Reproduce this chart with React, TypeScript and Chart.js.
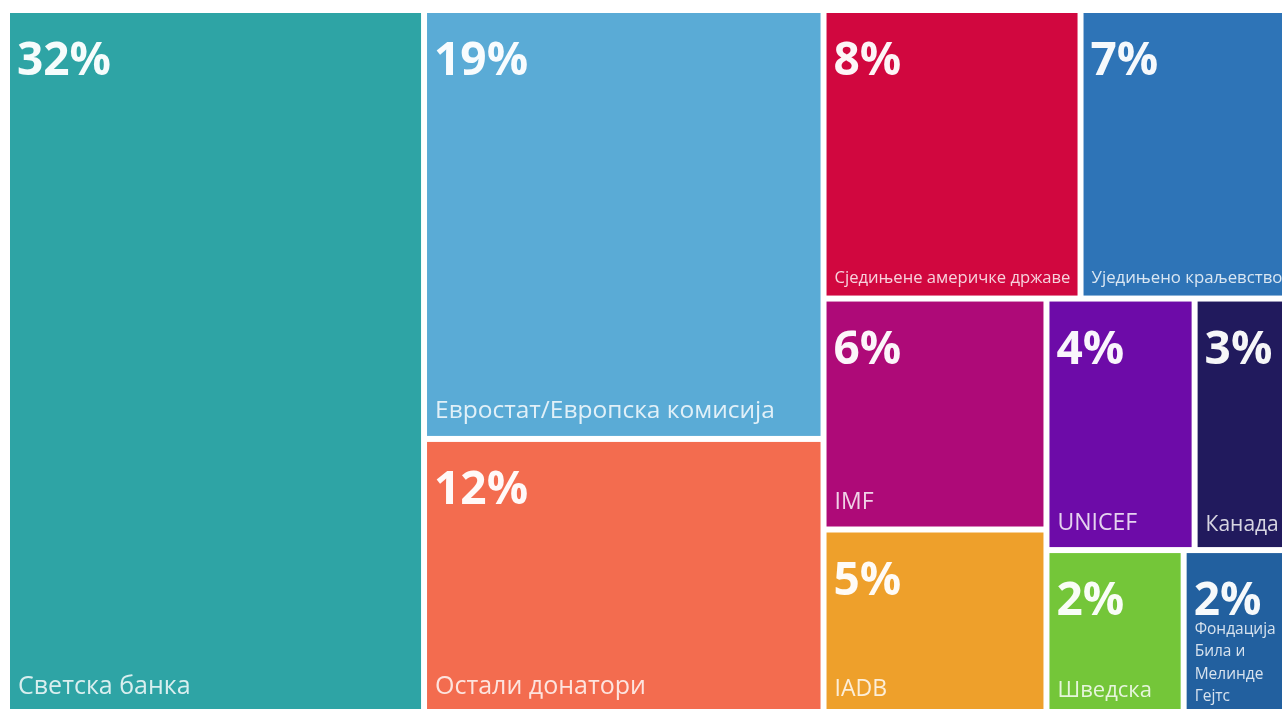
import React, { useEffect, useRef } from "react";
import { Chart, registerables } from "chart.js";

Chart.register(...registerables);

// ---- data ----
const categories: string[] = [
  "Светска банка",
  "Евростат/Европска комисија",
  "Остали донатори",
  "Сједињене америчке државе",
  "Уједињено краљевство",
  "IMF",
  "IADB",
  "UNICEF",
  "Канада",
  "Шведска",
  "Фондација\nБила и\nМелинде\nГејтс",
];
const shares: number[] = [32.08, 18.67, 12.06, 8.08, 7.12, 5.61, 4.53, 4.06, 3.08, 2.48, 2.23];

// ---- styles ----
const colors: string[] = [
  "#2ea4a5",
  "#5aabd6",
  "#f36c4f",
  "#d1073f",
  "#2e74b7",
  "#ae0a78",
  "#eea02b",
  "#6d0ba8",
  "#211a5d",
  "#74c639",
  "#22609f",
];
const labelSizes: number[] = [25, 24.5, 25, 16.6, 16.8, 23, 23, 23, 21, 22, 15.5];

// nesting of the treemap (leaf = index into categories); each group is split along its longer side
type Node = number | Node[];
const layoutTree: Node[] = [0, [1, 2], [[3, 4], [[5, 6], [[7, 8], [9, 10]]]]];

type Box = { x0: number; y0: number; x1: number; y1: number };

function nodeSum(n: Node): number {
  return typeof n === "number" ? shares[n] : n.reduce((a: number, c) => a + nodeSum(c), 0);
}

function layout(node: Node, b: Box, xs: any, ys: any, out: Box[]) {
  if (typeof node === "number") {
    out[node] = b;
    return;
  }
  const pw = Math.abs(xs.getPixelForValue(b.x1) - xs.getPixelForValue(b.x0));
  const ph = Math.abs(ys.getPixelForValue(b.y1) - ys.getPixelForValue(b.y0));
  const total = nodeSum(node);
  let acc = 0;
  for (const child of node) {
    const s = nodeSum(child);
    const a = acc / total;
    const e = (acc + s) / total;
    if (pw >= ph) {
      layout(child, { x0: b.x0 + (b.x1 - b.x0) * a, y0: b.y0, x1: b.x0 + (b.x1 - b.x0) * e, y1: b.y1 }, xs, ys, out);
    } else {
      layout(child, { x0: b.x0, y0: b.y0 + (b.y1 - b.y0) * a, x1: b.x1, y1: b.y0 + (b.y1 - b.y0) * e }, xs, ys, out);
    }
    acc += s;
  }
}

const GAP = 3;
const FONT = '"Open Sans", "Noto Sans", sans-serif';

const treemapPlugin = {
  id: "treemapCells",
  afterDatasetsDraw(chart: any) {
    const { ctx } = chart;
    const xs = chart.scales.x;
    const ys = chart.scales.y;
    const boxes: Box[] = [];
    layout(layoutTree, { x0: 0, y0: 0, x1: 100, y1: 100 }, xs, ys, boxes);
    ctx.save();
    boxes.forEach((b, i) => {
      const left = xs.getPixelForValue(b.x0) + GAP;
      const right = xs.getPixelForValue(b.x1) - GAP;
      const top = ys.getPixelForValue(b.y0) + GAP;
      const bottom = ys.getPixelForValue(b.y1) - GAP;
      ctx.fillStyle = colors[i];
      ctx.fillRect(left, top, right - left, bottom - top);

      ctx.save();
      ctx.beginPath();
      ctx.rect(left, top, right - left, bottom - top);
      ctx.clip();
      ctx.textAlign = "left";
      ctx.textBaseline = "alphabetic";
      ctx.fillStyle = "rgba(255,255,255,0.96)";
      ctx.font = `bold 46px ${FONT}`;
      ctx.fillText(`${Math.round(shares[i])}%`, left + 7, top + 62);

      const fs = labelSizes[i];
      const lines = categories[i].split("\n");
      const lh = fs * 1.45;
      ctx.font = `${fs}px ${FONT}`;
      ctx.fillStyle = "rgba(255,255,255,0.82)";
      const lastBase = bottom - fs * 0.75;
      lines.forEach((ln, k) => {
        ctx.fillText(ln, left + 8, lastBase - (lines.length - 1 - k) * lh);
      });
      ctx.restore();
    });
    ctx.restore();
  },
};

export default function App() {
  const ref = useRef<HTMLCanvasElement | null>(null);
  useEffect(() => {
    document.body.style.overflow = "hidden";
    if (!ref.current) return;
    const chart = new Chart(ref.current, {
      type: "scatter",
      data: { datasets: [{ data: [] as any[] }] },
      options: {
        animation: false,
        responsive: true,
        maintainAspectRatio: false,
        layout: { padding: 0 },
        plugins: { legend: { display: false }, tooltip: { enabled: false } },
        scales: {
          x: { type: "linear", min: 0, max: 100, display: false },
          y: { type: "linear", min: 0, max: 100, reverse: true, display: false },
        },
      },
      plugins: [treemapPlugin],
    });
    return () => chart.destroy();
  }, []);
  return (
    <div style={{ position: "fixed", left: 0, top: 0, width: 1282, height: 709, overflow: "hidden", background: "#fff" }}>
      <div style={{ position: "absolute", left: 7, top: 10, width: 1300, height: 706 }}>
        <canvas ref={ref} />
      </div>
    </div>
  );
}
